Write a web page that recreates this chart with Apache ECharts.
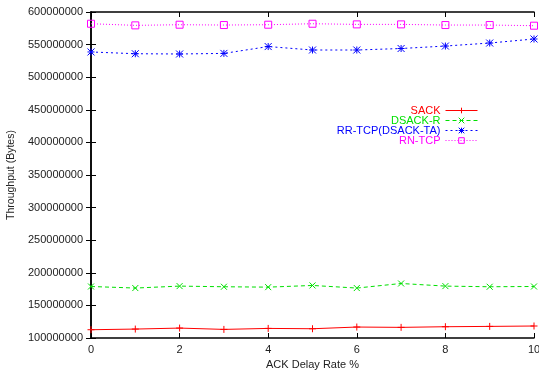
<!DOCTYPE html>
<html>
<head>
<meta charset="utf-8">
<script src="https://cdn.jsdelivr.net/npm/echarts@6/dist/echarts.min.js"></script>
<style>
  html, body { margin: 0; padding: 0; background: #fff; }
  #chart { width: 539px; height: 373px; }
</style>
</head>
<body>
<div id="chart"></div>
<script>
// ACK delay rate (%) on the x axis
const delayRates = [0, 1, 2, 3, 4, 5, 6, 7, 8, 9, 10];

// Throughput in bytes per protocol variant
const sack = [112.7e6, 113.7e6, 115.2e6, 113.2e6, 114.7e6, 114.2e6, 116.8e6, 116.3e6, 117.3e6, 117.8e6, 118.4e6];
const dsackR = [179.0e6, 176.6e6, 179.6e6, 178.6e6, 178.0e6, 180.6e6, 176.6e6, 183.6e6, 179.6e6, 178.6e6, 179.0e6];
const rrTcp = [538.7e6, 536.0e6, 535.6e6, 536.5e6, 547.0e6, 541.7e6, 541.7e6, 544.0e6, 547.8e6, 552.4e6, 558.6e6];
const rnTcp = [582.0e6, 579.5e6, 580.5e6, 580.0e6, 580.5e6, 582.0e6, 581.0e6, 581.0e6, 580.0e6, 580.0e6, 579.0e6];

const seriesNames = ['SACK', 'DSACK-R', 'RR-TCP(DSACK-TA)', 'RN-TCP'];
const seriesColors = ['#ff0000', '#00e000', '#0000ff', '#ff00ff'];

const FONT = '"Liberation Sans", Arial, sans-serif';

const plusPath = 'path://M0,5L10,5M5,0L5,10';
const crossPath = 'path://M0,0L10,10M10,0L0,10';
const starPath = 'path://M0,0L10,10M10,0L0,10M0,5L10,5M5,0L5,10';
const squarePath = 'path://M0,0L10,0L10,10L0,10Z';

function pairs(values) {
  return delayRates.map((x, i) => [x, values[i]]);
}

function makeSeries(name, values, color, symbol, size, lineType) {
  return {
    name: name,
    type: 'line',
    data: pairs(values),
    symbol: symbol,
    symbolSize: size,
    showAllSymbol: true,
    lineStyle: { color: color, width: 1, type: lineType },
    itemStyle: { color: 'none', borderColor: color, borderWidth: 1 },
    emphasis: { disabled: true },
    animation: false
  };
}

const axisLineStyle = { show: true, lineStyle: { color: '#000', width: 1.5 } };
const tickStyle = { show: true, inside: true, length: 5, lineStyle: { color: '#000', width: 1 } };

const chart = echarts.init(document.getElementById('chart'), null, { renderer: 'canvas' });
chart.setOption({
  backgroundColor: '#fff',
  animation: false,
  grid: { left: 91, right: 5, top: 12, bottom: 35, containLabel: false, outerBoundsMode: 'none' },
  legend: {
    orient: 'vertical',
    right: 56,
    top: 100,
    align: 'right',
    itemWidth: 32,
    itemHeight: 7,
    itemGap: -1,
    selectedMode: false,
    lineStyle: { width: 1 },
    itemStyle: { borderWidth: 1 },
    data: seriesNames.map((n, i) => ({ name: n, textStyle: { color: seriesColors[i] } })),
    textStyle: { fontFamily: FONT, fontSize: 11, lineHeight: 10, padding: [0, 0, 0, 0] }
  },
  xAxis: [
    {
      type: 'value', min: 0, max: 10, interval: 2,
      name: 'ACK Delay Rate %', nameLocation: 'middle', nameGap: 21,
      nameTextStyle: { fontFamily: FONT, fontSize: 11, color: '#222' },
      axisLine: axisLineStyle, axisTick: tickStyle,
      axisLabel: { fontFamily: FONT, fontSize: 11, color: '#222', margin: 6 },
      splitLine: { show: false }
    },
    {
      type: 'value', min: 0, max: 10, interval: 2, position: 'top',
      axisLine: axisLineStyle, axisTick: tickStyle,
      axisLabel: { show: false }, splitLine: { show: false }
    }
  ],
  yAxis: [
    {
      type: 'value', min: 100000000, max: 600000000, interval: 50000000,
      name: 'Throughput (Bytes)', nameLocation: 'middle', nameGap: 71,
      nameTextStyle: { fontFamily: FONT, fontSize: 10.5, color: '#222' },
      axisLine: axisLineStyle, axisTick: tickStyle,
      axisLabel: { fontFamily: FONT, fontSize: 11, color: '#222', margin: 8, formatter: v => String(v) },
      splitLine: { show: false }
    },
    {
      type: 'value', min: 100000000, max: 600000000, interval: 50000000, position: 'right',
      axisLine: axisLineStyle, axisTick: tickStyle,
      axisLabel: { show: false }, splitLine: { show: false }
    }
  ],
  series: [
    makeSeries(seriesNames[0], sack, seriesColors[0], plusPath, 7, 'solid'),
    makeSeries(seriesNames[1], dsackR, seriesColors[1], crossPath, 6, [4, 3]),
    makeSeries(seriesNames[2], rrTcp, seriesColors[2], starPath, 7, [2, 3]),
    makeSeries(seriesNames[3], rnTcp, seriesColors[3], squarePath, 7, [1, 2])
  ]
});
</script>
</body>
</html>
